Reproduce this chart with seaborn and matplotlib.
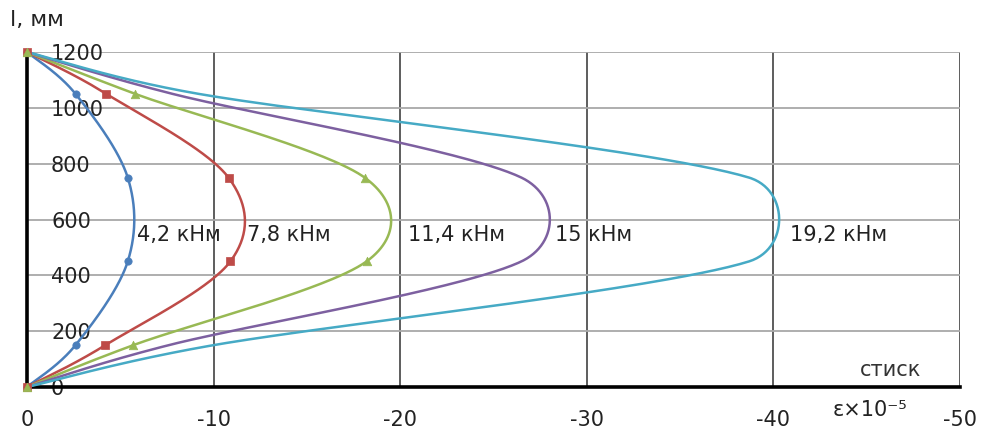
import numpy as np
import pandas as pd
import matplotlib
matplotlib.use("Agg")
import matplotlib.pyplot as plt
import seaborn as sns

# Section height l, mm (measurement levels)
depth = [0, 150, 450, 750, 1050, 1200]

# Compressive strain, x10^-5, for each bending moment
strain_4_2 = [0, -2.6, -5.4, -5.4, -2.6, 0]
strain_7_8 = [0, -4.2, -10.9, -10.8, -4.25, 0]
strain_11_4 = [0, -5.7, -18.2, -18.1, -5.8, 0]
strain_15 = [0, -7.6, -26.5, -26.5, -7.8, 0]
strain_19_2 = [0, -10.0, -38.7, -38.7, -9.2, 0]

moment_labels = ["4,2 кНм", "7,8 кНм", "11,4 кНм", "15 кНм", "19,2 кНм"]

x_ticks = [0, -10, -20, -30, -40, -50]
x_tick_labels = ["0", "-10", "-20", "-30", "-40", "-50"]
y_ticks = [0, 200, 400, 600, 800, 1000, 1200]
y_tick_labels = ["0", "200", "400", "600", "800", "1000", "1200"]

series = [strain_4_2, strain_7_8, strain_11_4, strain_15, strain_19_2]
colors = ["#4A7EBB", "#BE4B48", "#98B954", "#7D60A0", "#46AAC5"]
markers = ["o", "s", "^", None, None]
marker_sizes = [28, 40, 38, 0, 0]
label_x = [-5.9, -11.8, -20.4, -28.3, -40.9]
label_y = 545

sns.set_style("white")
plt.rcParams["font.family"] = ["DejaVu Sans"]

fig = plt.figure(figsize=(9.88, 4.32), dpi=100)
ax = fig.add_axes([27 / 988, 45 / 432, 933 / 988, 335 / 432])
ax.set_xlim(0, -50)
ax.set_ylim(0, 1200)


def smooth_curve(ax, xs, ys, n=60):
    """Bezier smoothing through the points, done in display space."""
    pts = ax.transData.transform(np.column_stack([xs, ys]))
    P = np.vstack([pts[0], pts, pts[-1]])
    t = np.linspace(0, 1, n)[1:]
    out = [pts[0]]
    for i in range(len(pts) - 1):
        p0, p1, p2, p3 = P[i], P[i + 1], P[i + 2], P[i + 3]
        d12 = np.linalg.norm(p2 - p1)
        t1 = p2 - p0
        t2 = p3 - p1
        n1 = np.linalg.norm(t1)
        n2 = np.linalg.norm(t2)
        f1 = min(1 / 6, 0.5 * d12 / n1) if n1 > 0 else 0
        f2 = min(1 / 6, 0.5 * d12 / n2) if n2 > 0 else 0
        c1 = p1 + t1 * f1
        c2 = p2 - t2 * f2
        seg = (((1 - t) ** 3)[:, None] * p1 + (3 * (1 - t) ** 2 * t)[:, None] * c1
               + (3 * (1 - t) * t ** 2)[:, None] * c2 + (t ** 3)[:, None] * p2)
        out.extend(seg)
    data = ax.transData.inverted().transform(np.array(out))
    return data[:, 0], data[:, 1]


for vals, col, mk, ms, lab, lx in zip(series, colors, markers, marker_sizes,
                                       moment_labels, label_x):
    cx, cy = smooth_curve(ax, vals, depth)
    sns.lineplot(x=cx, y=cy, sort=False, estimator=None, color=col,
                 linewidth=1.8, ax=ax, zorder=3)
    if mk is not None:
        pts = pd.DataFrame({"strain": vals, "l": depth})
        sns.scatterplot(data=pts, x="strain", y="l", marker=mk, s=ms,
                        color=col, edgecolor=col, linewidth=0.5, ax=ax,
                        zorder=4, clip_on=False)
    ax.text(lx, label_y, lab, ha="left", va="center", fontsize=15,
            color="#222222", zorder=5)

ax.set_xlim(0, -50)
ax.set_ylim(0, 1200)
ax.set_xticks(x_ticks)
ax.set_xticklabels(x_tick_labels)
ax.set_yticks(y_ticks)
ax.set_yticklabels(y_tick_labels)
ax.set_xlabel("")
ax.set_ylabel("")

ax.xaxis.grid(True, color="#505050", linewidth=1.3)
ax.yaxis.grid(True, color="#a8a8a8", linewidth=1.3)
ax.set_axisbelow(True)

for side in ["top", "right"]:
    ax.spines[side].set_visible(False)
for side in ["left", "bottom"]:
    ax.spines[side].set_color("black")
    ax.spines[side].set_linewidth(2.6)
    ax.spines[side].set_zorder(2.5)

ax.tick_params(axis="both", direction="inout", length=7, width=2,
               colors="black", labelcolor="#222222", labelsize=15)
ax.tick_params(axis="y", pad=-20.8)
ax.tick_params(axis="x", pad=13)
for t in ax.get_yticklabels():
    t.set_horizontalalignment("left")

ax.text(-46.3, 61, "стиск", ha="center", va="center", fontsize=15,
        color="#333333")
fig.text(833 / 988, 1 - 410 / 432, "ε×10⁻⁵", ha="left", va="center",
         fontsize=15, color="#222222")
fig.text(10 / 988, 1 - 20 / 432, "l, мм", ha="left", va="center",
         fontsize=16, color="#222222")

fig.savefig("out.png", dpi=100)
